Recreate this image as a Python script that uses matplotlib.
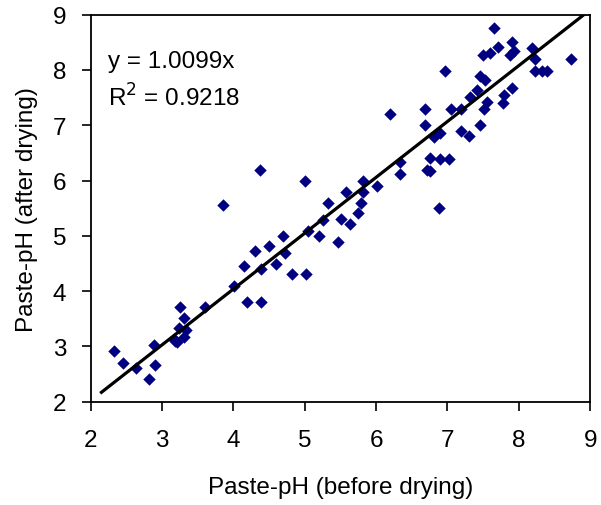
import matplotlib
matplotlib.use("Agg")
import matplotlib.pyplot as plt
import numpy as np

plt.rcParams['font.family'] = ['Liberation Sans', 'DejaVu Sans']

x_before = [2.33, 2.45, 2.64, 2.81, 2.90, 2.89, 3.16, 3.25, 3.30, 3.23, 3.34, 3.30, 3.18, 3.21,
            3.60, 4.01, 4.15, 4.30, 4.19, 4.39, 4.39, 4.50, 3.85, 4.37, 4.60, 4.69, 4.72, 4.82,
            5.02, 5.00, 5.04, 5.20, 5.26, 5.33, 5.47, 5.51, 5.63, 5.58, 5.74, 5.79, 5.82, 5.82,
            6.01, 6.34, 6.33, 6.19, 6.68, 6.68, 6.97, 6.75, 6.71, 6.75, 6.90, 7.02, 6.81, 6.90,
            6.88, 7.05, 7.19, 7.19, 7.30, 7.32, 7.42, 7.46, 7.52, 7.46, 7.51, 7.56, 7.50, 7.59,
            7.65, 7.71, 7.79, 7.78, 7.91, 7.90, 7.93, 7.88, 8.19, 8.22, 8.23, 8.32, 8.40, 8.73]
y_after = [2.91, 2.70, 2.61, 2.41, 2.67, 3.03, 3.14, 3.71, 3.51, 3.33, 3.30, 3.18, 3.10, 3.09,
           3.71, 4.09, 4.46, 4.72, 3.80, 3.80, 4.40, 4.81, 5.56, 6.19, 4.49, 5.00, 4.69, 4.31,
           4.31, 5.99, 5.09, 5.00, 5.29, 5.59, 4.89, 5.31, 5.21, 5.79, 5.41, 5.59, 5.79, 5.99,
           5.91, 6.33, 6.12, 7.20, 7.29, 7.01, 7.98, 6.40, 6.19, 6.18, 6.39, 6.39, 6.78, 6.86,
           5.50, 7.29, 7.29, 6.89, 6.80, 7.51, 7.63, 7.90, 7.81, 7.01, 7.29, 7.42, 8.27, 8.30,
           8.76, 8.42, 7.54, 7.40, 7.67, 8.51, 8.35, 8.27, 8.40, 8.19, 7.98, 7.98, 7.98, 8.19]

slope = 1.0099
r2 = 0.9218
fit_x = [2.15, 8.912]

fig = plt.figure(figsize=(6.01, 5.06), dpi=100)
ax = fig.add_axes([0.151, 0.204, 0.831, 0.765])

ax.scatter(x_before, y_after, marker='D', s=40, color='#000080', linewidths=0, zorder=3)
fx = np.array(fit_x)
ax.plot(fx, slope * fx, color='black', linewidth=2.3, zorder=4)

ax.set_xlim(2, 9)
ax.set_ylim(2, 9)
ax.set_xticks(range(2, 10))
ax.set_yticks(range(2, 10))
ax.tick_params(direction='out', length=6.5, width=1.2, labelsize=17.5)
ax.tick_params(axis='x', pad=13)
ax.tick_params(axis='y', pad=11)
for s in ax.spines.values():
    s.set_linewidth(1.3)

ax.set_xlabel('Paste-pH (before drying)', fontsize=17.5, labelpad=18)
ax.set_ylabel('Paste-pH (after drying)', fontsize=17.5, labelpad=11)

ax.text(0.034, 0.88, 'y = 1.0099x', transform=ax.transAxes, fontsize=17.5, va='center')
ax.text(0.034, 0.787, r'R$^2$ = 0.9218', transform=ax.transAxes, fontsize=17.5, va='center')

fig.savefig('out.png', dpi=100)
